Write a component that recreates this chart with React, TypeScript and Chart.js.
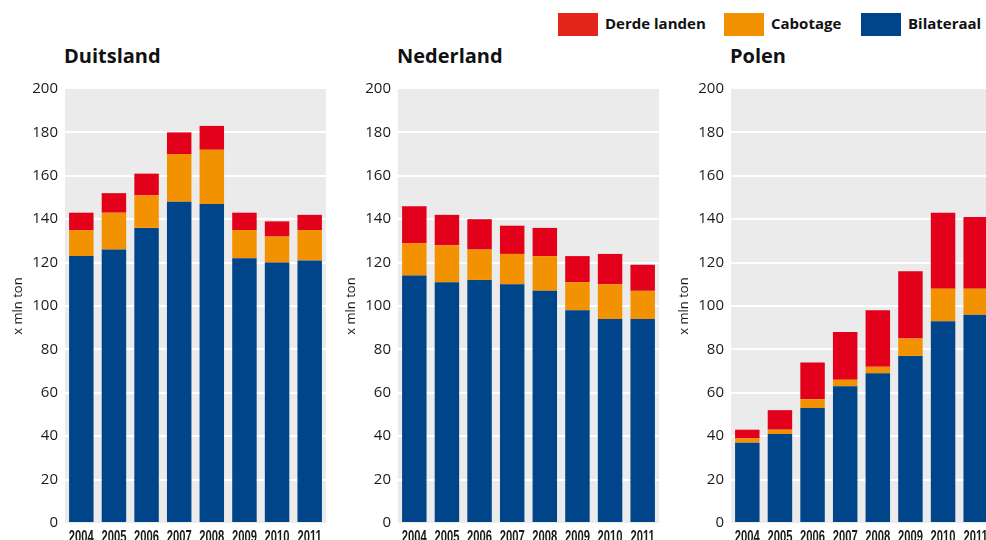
import React, { useEffect, useRef } from "react";
import { Chart, registerables } from "chart.js";

Chart.register(...registerables);

// ---- data ----
const years = ["2004", "2005", "2006", "2007", "2008", "2009", "2010", "2011"];
const yTicks = [0, 20, 40, 60, 80, 100, 120, 140, 160, 180, 200];

const duitslandBilateraal = [123, 126, 136, 148, 147, 122, 120, 121];
const duitslandCabotage = [12, 17, 15, 22, 25, 13, 12, 14];
const duitslandDerde = [8, 9, 10, 10, 11, 8, 7, 7];

const nederlandBilateraal = [114, 111, 112, 110, 107, 98, 94, 94];
const nederlandCabotage = [15, 17, 14, 14, 16, 13, 16, 13];
const nederlandDerde = [17, 14, 14, 13, 13, 12, 14, 12];

const polenBilateraal = [37, 41, 53, 63, 69, 77, 93, 96];
const polenCabotage = [2, 2, 4, 3, 3, 8, 15, 12];
const polenDerde = [4, 9, 17, 22, 26, 31, 35, 33];

const seriesNames = ["Derde landen", "Cabotage", "Bilateraal"];

const BLUE = "#00458a";
const ORANGE = "#f39200";
const RED = "#e2001a";
const LEGEND_RED = "#e3251a";
const GRAY = "#ebebeb";

const SANS = "'Open Sans', 'Noto Sans', sans-serif";
const CONDENSED_FONT = "bold 16px 'Liberation Sans', Arial, sans-serif";

const bgPlugin = {
  id: "plotBg",
  beforeDraw(chart: any) {
    const { ctx, chartArea } = chart;
    if (!chartArea) return;
    ctx.save();
    ctx.fillStyle = GRAY;
    ctx.fillRect(chartArea.left, chartArea.top, chartArea.right - chartArea.left, chartArea.bottom - chartArea.top);
    ctx.restore();
  },
};

// draws the category labels of the x scale in a condensed face
const condensedXLabels = {
  id: "condensedXLabels",
  afterDraw(chart: any) {
    const { ctx, chartArea } = chart;
    const xs = chart.scales.x;
    const labels: string[] = chart.data.labels;
    ctx.save();
    ctx.font = CONDENSED_FONT;
    ctx.fillStyle = "#1a1a1a";
    ctx.textAlign = "center";
    ctx.textBaseline = "alphabetic";
    const baseline = chartArea.bottom + 7 + 11.5;
    labels.forEach((lab, i) => {
      const x = xs.getPixelForTick(i);
      ctx.save();
      ctx.translate(x, baseline);
      ctx.scale(0.7, 1);
      ctx.fillText(lab, 0, 0);
      ctx.restore();
    });
    ctx.restore();
  },
};

const PLOT_W = 261;
const AXIS_W = 65;
const CANVAS_TOP = 73;
const CANVAS_H = 470;

type PanelProps = {
  plotLeft: number;
  title: string;
  bil: number[];
  cab: number[];
  der: number[];
};

function Panel({ plotLeft, title, bil, cab, der }: PanelProps) {
  const ref = useRef<HTMLCanvasElement | null>(null);
  useEffect(() => {
    if (!ref.current) return;
    const chart = new Chart(ref.current, {
      type: "bar",
      data: {
        labels: years,
        datasets: [
          { label: seriesNames[2], data: bil, backgroundColor: BLUE, borderWidth: 0 },
          { label: seriesNames[1], data: cab, backgroundColor: ORANGE, borderWidth: 0 },
          { label: seriesNames[0], data: der, backgroundColor: RED, borderWidth: 0 },
        ],
      },
      options: {
        animation: false,
        responsive: false,
        maintainAspectRatio: false,
        layout: { padding: { top: 10, right: 4, left: 0, bottom: 0 } },
        datasets: { bar: { categoryPercentage: 1, barPercentage: 0.75 } },
        plugins: { legend: { display: false }, tooltip: { enabled: false } },
        scales: {
          x: {
            stacked: true,
            grid: { display: false },
            border: { display: false },
            ticks: { display: false },
            afterFit: (s: any) => {
              s.height = 20;
            },
          },
          y: {
            stacked: true,
            min: 0,
            max: 200,
            afterBuildTicks: (s: any) => {
              s.ticks = yTicks.map((v) => ({ value: v }));
            },
            ticks: {
              padding: 7,
              color: "#1a1a1a",
              font: { family: SANS, size: 15 },
            },
            grid: {
              color: (c: any) => (c.tick && (c.tick.value === 0 || c.tick.value === 200) ? "rgba(0,0,0,0)" : "#ffffff"),
              lineWidth: 2,
              drawTicks: false,
            },
            border: { display: false },
            title: {
              display: true,
              text: "x mln ton",
              color: "#1a1a1a",
              font: { family: SANS, size: 13 },
              padding: { top: 10, bottom: 0 },
            },
            afterFit: (s: any) => {
              s.width = AXIS_W;
            },
          },
        },
      },
      plugins: [bgPlugin, condensedXLabels],
    } as any);
    return () => chart.destroy();
  }, []);

  return (
    <>
      <div
        style={{
          position: "absolute",
          left: plotLeft - 1,
          top: 46,
          fontFamily: SANS,
          fontWeight: 700,
          fontSize: 20,
          lineHeight: "20px",
          color: "#111",
          whiteSpace: "nowrap",
        }}
      >
        {title}
      </div>
      <canvas
        ref={ref}
        width={AXIS_W + PLOT_W + 4}
        height={CANVAS_H}
        style={{ position: "absolute", left: plotLeft - AXIS_W, top: CANVAS_TOP, width: AXIS_W + PLOT_W + 4, height: CANVAS_H }}
      />
    </>
  );
}

const legendItems = [
  { name: seriesNames[0], color: LEGEND_RED, box: 558, text: 605 },
  { name: seriesNames[1], color: ORANGE, box: 724, text: 771 },
  { name: seriesNames[2], color: BLUE, box: 861, text: 908 },
];

export default function App() {
  return (
    <div
      style={{
        position: "fixed",
        left: 0,
        top: 0,
        width: 986,
        height: 540,
        overflow: "hidden",
        background: "#fff",
      }}
    >
      {legendItems.map((it) => (
        <React.Fragment key={it.name}>
          <div style={{ position: "absolute", left: it.box, top: 13, width: 40, height: 23, background: it.color }} />
          <div
            style={{
              position: "absolute",
              left: it.text,
              top: 16,
              fontFamily: SANS,
              fontWeight: 700,
              fontSize: 15,
              lineHeight: "15px",
              color: "#111",
              whiteSpace: "nowrap",
            }}
          >
            {it.name}
          </div>
        </React.Fragment>
      ))}
      <Panel plotLeft={65} title="Duitsland" bil={duitslandBilateraal} cab={duitslandCabotage} der={duitslandDerde} />
      <Panel plotLeft={398} title="Nederland" bil={nederlandBilateraal} cab={nederlandCabotage} der={nederlandDerde} />
      <Panel plotLeft={731} title="Polen" bil={polenBilateraal} cab={polenCabotage} der={polenDerde} />
    </div>
  );
}
